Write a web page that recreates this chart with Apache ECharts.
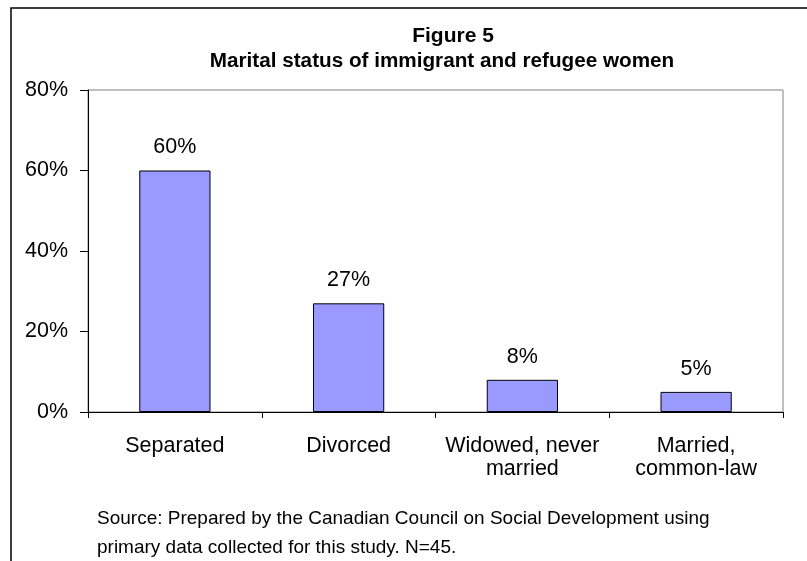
<!DOCTYPE html>
<html>
<head>
<meta charset="utf-8">
<script src="https://cdn.jsdelivr.net/npm/echarts@6/dist/echarts.min.js"></script>
<style>
    html, body { margin: 0; padding: 0; background: #fff; }
    #chart { width: 807px; height: 561px; }
</style>
</head>
<body>
<div id="chart"></div>
<script>
const categories = ['Separated', 'Divorced', 'Widowed, never\nmarried', 'Married,\ncommon-law']
const values = [60, 27, 8, 5]
const yTicks = [0, 20, 40, 60, 80]
const titleLines = ['Figure 5', 'Marital status of immigrant and refugee women']
const sourceLines = [
    'Source: Prepared by the Canadian Council on Social Development using',
    'primary data collected for this study. N=45.'
]

const font = 'Arial, "Liberation Sans", sans-serif'

const chart = echarts.init(document.getElementById('chart'))
chart.setOption({
    backgroundColor: '#fff',
    animation: false,
    title: [{
        text: titleLines[0],
        left: 448,
        top: 21,
        textAlign: 'center',
        textStyle: { fontFamily: font, fontSize: 21, fontWeight: 'bold', color: '#000' }
    }, {
        text: titleLines[1],
        left: 437,
        top: 46,
        textAlign: 'center',
        textStyle: { fontFamily: font, fontSize: 20.7, fontWeight: 'bold', color: '#000' }
    }],
    grid: {
        left: 88,
        top: 90,
        right: 24,
        bottom: 149,
        show: true,
        borderColor: '#808080',
        borderWidth: 1,
        backgroundColor: '#fff'
    },
    xAxis: {
        type: 'category',
        data: categories,
        axisLine: { lineStyle: { color: '#000', width: 1 } },
        axisTick: { show: true, length: 6, lineStyle: { color: '#000' } },
        axisLabel: {
            fontFamily: font,
            fontSize: 21.5,
            color: '#000',
            margin: 23,
            lineHeight: 23,
            interval: 0
        }
    },
    yAxis: {
        type: 'value',
        min: yTicks[0],
        max: yTicks[yTicks.length - 1],
        interval: 20,
        splitLine: { show: false },
        axisLine: { show: true, lineStyle: { color: '#000', width: 1 } },
        axisTick: { show: true, length: 8, lineStyle: { color: '#000' } },
        axisLabel: {
            fontFamily: font,
            fontSize: 21.5,
            color: '#000',
            margin: 20,
            formatter: '{value}%'
        }
    },
    series: [{
        type: 'bar',
        data: values,
        barWidth: '41%',
        itemStyle: { color: '#9999ff', borderColor: '#000', borderWidth: 1 },
        label: {
            show: true,
            position: 'top',
            distance: 12,
            fontFamily: font,
            fontSize: 21.5,
            color: '#000',
            formatter: '{c}%'
        }
    }],
    graphic: [{
        type: 'rect',
        shape: { x: 11, y: 8, width: 820, height: 600 },
        style: { fill: 'none', stroke: '#000', lineWidth: 1.5 },
        silent: true,
        z: -1
    }, {
        type: 'text',
        left: 97,
        top: 505,
        style: {
            text: sourceLines.join('\n'),
            fontFamily: font,
            fontSize: 19,
            lineHeight: 28.5,
            fill: '#000'
        }
    }]
})
</script>
</body>
</html>
